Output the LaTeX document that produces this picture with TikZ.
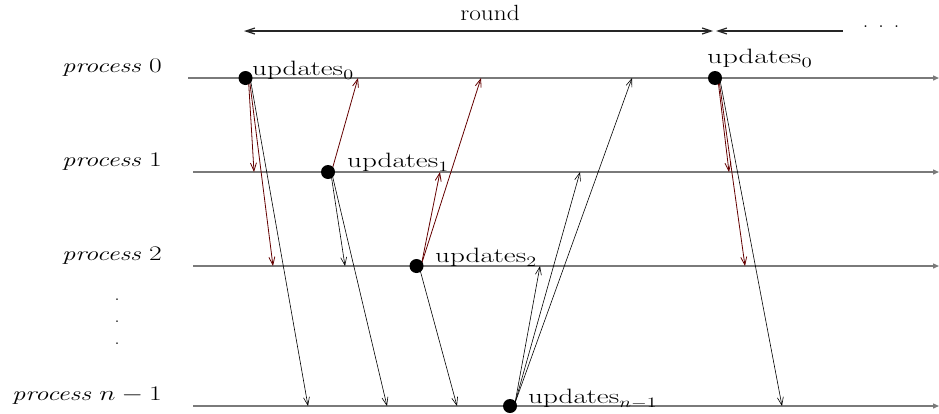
\documentclass[tikz,border=0pt]{standalone}
\usetikzlibrary{arrows.meta,calc}
\definecolor{tlgray}{RGB}{122,122,122}
\definecolor{msgred}{RGB}{100,0,0}
\newcommand\ulab[2]{\scalebox{#1}[1]{$\mathrm{updates}_{#2}$}}
\newcommand\plab[1]{\scalebox{1.33}[1]{\textit{process} $#1$}}
\begin{document}
\begin{tikzpicture}[x=1pt,y=-1pt,
  tl/.style={draw=tlgray,line width=1.3pt,-{Triangle[length=6pt,width=5pt]}},
  msg/.style={draw=black,line width=0.6pt,-{Straight Barb[length=8pt,width=6pt]}},
  msgr/.style={msg,draw=msgred,line width=0.8pt},
  ev/.style={circle,fill=black,minimum size=14pt,inner sep=0pt},
  lbl/.style={anchor=base west,inner sep=0pt,font=\fontsize{22}{22}\selectfont},
  plbl/.style={anchor=base east,inner sep=0pt,font=\fontsize{20}{20}\selectfont},
  rnd/.style={draw=black!85,line width=1.2pt}
]
\useasboundingbox (0,0) rectangle (939,413);
% timelines
\coordinate (a0) at (188,78);  \coordinate (b0) at (939,78);
\coordinate (a1) at (193,172); \coordinate (b1) at (939,172);
\coordinate (a2) at (193,266); \coordinate (b2) at (939,266);
\coordinate (a3) at (193,406); \coordinate (b3) at (939,406);
\draw[tl] (a0) -- (b0);
\draw[tl] (a1) -- (b1);
\draw[tl] (a2) -- (b2);
\draw[tl] (a3) -- (b3);
% process labels
\node[plbl] (p0) at (162,72) {\plab{0}};
\node[plbl] (p1) at (162,166) {\plab{1}};
\node[plbl] (p2) at (162,260) {\plab{2}};
\node[plbl] (p3) at (162,400) {\plab{n-1}};
\foreach \yy/\nm in {300/v1,322/v2,344/v3}
  \node[inner sep=0pt,font=\fontsize{20}{20}\selectfont] (\nm) at (117,\yy) {.};
% round
\node[inner sep=0pt,anchor=base,font=\fontsize{22}{22}\selectfont] (rl) at (490,20) {\scalebox{1.15}[1]{round}};
\coordinate (r0) at (244,31); \coordinate (r1) at (713,31);
\coordinate (r2) at (716,31); \coordinate (r3) at (843,31);
\draw[rnd,{Straight Barb[length=9pt,width=6pt]}-{Straight Barb[length=9pt,width=6pt]}] (r0) -- (r1);
\draw[rnd,{Straight Barb[length=9pt,width=6pt]}-] (r2) -- (r3);
\node[inner sep=0pt,font=\fontsize{22}{22}\selectfont] (dd) at (881,27) {.\hspace{10pt}.\hspace{10pt}.};
% event positions
\coordinate (c0) at (245.5,78);
\coordinate (c1) at (328,172);
\coordinate (c2) at (416.5,266);
\coordinate (c3) at (510,406);
\coordinate (c4) at (715,78);
% message targets
\coordinate (t1) at (254,172); \coordinate (t2) at (273,266); \coordinate (t3) at (308,406);
\coordinate (t4) at (358,78);  \coordinate (t5) at (345,266); \coordinate (t6) at (387,406);
\coordinate (t7) at (440,172); \coordinate (t8) at (481,78);  \coordinate (t9) at (457,406);
\coordinate (t10) at (540,266); \coordinate (t11) at (580,172); \coordinate (t12) at (632,78);
\coordinate (t13) at (729,172); \coordinate (t14) at (745,266); \coordinate (t15) at (782,406);
% messages
\draw[msgr] ($(c0)+(3,2)$) -- (t1);
\draw[msgr] ($(c0)+(4,2)$) -- (t2);
\draw[msg]  ($(c0)+(5,2)$) -- (t3);
\draw[msgr] ($(c1)+(4,-2)$) -- (t4);
\draw[msg]  ($(c1)+(3,2)$) -- (t5);
\draw[msg]  ($(c1)+(4,2)$) -- (t6);
\draw[msgr] ($(c2)+(5,-2)$) -- (t7);
\draw[msgr] ($(c2)+(5,-2)$) -- (t8);
\draw[msg]  ($(c2)+(3,2)$) -- (t9);
\draw[msg]  ($(c3)+(5,-3)$) -- (t10);
\draw[msg]  ($(c3)+(5,-3)$) -- (t11);
\draw[msg]  ($(c3)+(5,-3)$) -- (t12);
\draw[msgr] ($(c4)+(3,2)$) -- (t13);
\draw[msgr] ($(c4)+(4,2)$) -- (t14);
\draw[msg]  ($(c4)+(5,2)$) -- (t15);
% events
\node[ev] (e0) at (c0) {};
\node[ev] (e1) at (c1) {};
\node[ev] (e2) at (c2) {};
\node[ev] (e3) at (c3) {};
\node[ev] (e4) at (c4) {};
% update labels
\node[lbl] (u0) at (252,75) {\ulab{1.4}{0}};
\node[lbl] (u1) at (347,167) {\ulab{1.4}{1}};
\node[lbl] (u2) at (435,262) {\ulab{1.4}{2}};
\node[lbl] (u3) at (528,403) {\ulab{1.4}{n-1}};
\node[lbl,font=\fontsize{20}{20}\selectfont] (u4) at (707,63) {\ulab{1.45}{0}};
\end{tikzpicture}
\end{document}
